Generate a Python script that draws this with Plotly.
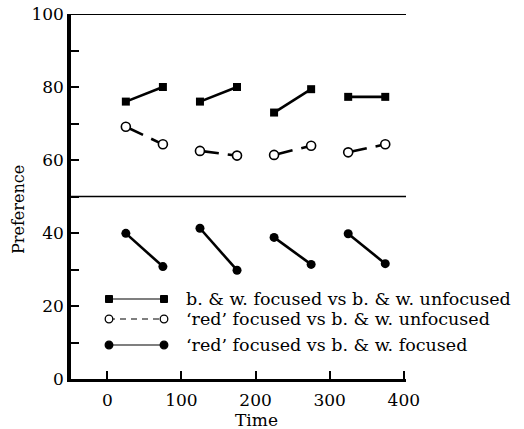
import plotly.graph_objects as go

# ---- data ----
times = [25, 75, 125, 175, 225, 275, 325, 375]
bw_focused_vs_bw_unfocused = [76, 80, 76, 80, 73, 79.4, 77.3, 77.3]
red_focused_vs_bw_unfocused = [69.1, 64.3, 62.5, 61.2, 61.4, 63.9, 62.1, 64.3]
red_focused_vs_bw_focused = [39.9, 30.8, 41.3, 29.8, 38.8, 31.4, 39.8, 31.6]

legend_labels = [
    "b. & w. focused vs b. & w. unfocused",
    "\u2018red\u2019 focused vs b. & w. unfocused",
    "\u2018red\u2019 focused vs b. & w. focused",
]
y_tick_vals = [0, 10, 20, 30, 40, 50, 60, 70, 80, 90, 100]
y_tick_text = ["0", "", "20", "", "40", "", "60", "", "80", "", "100"]
x_tick_vals = [0, 100, 200, 300, 400]

FONT = "DejaVu Serif"
W, H = 524, 429
L, R, T, B = 71, 406, 14, 379  # plot area in pixels


def pairs(xs, ys):
    ox, oy = [], []
    for i in range(0, len(xs), 2):
        ox += [xs[i], xs[i + 1], None]
        oy += [ys[i], ys[i + 1], None]
    return ox, oy


fig = go.Figure()

x1, y1 = pairs(times, bw_focused_vs_bw_unfocused)
fig.add_trace(go.Scatter(x=x1, y=y1, mode="lines+markers",
                         line=dict(color="black", width=2.6),
                         marker=dict(symbol="square", size=8, color="black"),
                         showlegend=False, cliponaxis=False))
x2, y2 = pairs(times, red_focused_vs_bw_unfocused)
fig.add_trace(go.Scatter(x=x2, y=y2, mode="lines+markers",
                         line=dict(color="black", width=2.6, dash="19px,9px"),
                         marker=dict(symbol="circle", size=9, color="white",
                                     line=dict(color="black", width=1.6)),
                         showlegend=False, cliponaxis=False))
x3, y3 = pairs(times, red_focused_vs_bw_focused)
fig.add_trace(go.Scatter(x=x3, y=y3, mode="lines+markers",
                         line=dict(color="black", width=2.6),
                         marker=dict(symbol="circle", size=9, color="black"),
                         showlegend=False, cliponaxis=False))


def px(x):
    return (x - L) / (R - L)


def py(y):
    return (B - y) / (B - T)


shapes = []
# horizontal lines at 100 and 50
shapes.append(dict(type="line", xref="paper", yref="y", x0=0, x1=1, y0=100, y1=100,
                   line=dict(color="black", width=1.8)))
shapes.append(dict(type="line", xref="paper", yref="y", x0=0, x1=1, y0=50, y1=50,
                   line=dict(color="black", width=1.5)))

# legend samples
rows_y = [299, 319, 345]
lx0, lx1 = 109, 164
for i, ry in enumerate(rows_y):
    dash = "6px,5px" if i == 1 else "solid"
    shapes.append(dict(type="line", xref="paper", yref="paper",
                       x0=px(lx0), x1=px(lx1), y0=py(ry), y1=py(ry),
                       line=dict(color="black", width=1.2, dash=dash)))
    for cx in (lx0, lx1):
        if i == 0:
            s = 3.5
            shapes.append(dict(type="rect", xref="paper", yref="paper",
                               x0=px(cx - s), x1=px(cx + s), y0=py(ry + s), y1=py(ry - s),
                               fillcolor="black", line=dict(color="black", width=1)))
        else:
            s = 3.8
            shapes.append(dict(type="circle", xref="paper", yref="paper",
                               x0=px(cx - s), x1=px(cx + s), y0=py(ry + s), y1=py(ry - s),
                               fillcolor="white" if i == 1 else "black",
                               line=dict(color="black", width=1.3)))

annotations = []
for i, ry in enumerate(rows_y):
    annotations.append(dict(text=legend_labels[i], xref="paper", yref="paper",
                            x=px(184), y=py(ry), xanchor="left", yanchor="middle",
                            showarrow=False, font=dict(family=FONT, size=17.5, color="black")))
annotations.append(dict(text="Time", xref="paper", yref="paper", x=px(256), y=py(420),
                        xanchor="center", yanchor="middle", showarrow=False,
                        font=dict(family=FONT, size=17, color="black")))
annotations.append(dict(text="Preference", xref="paper", yref="paper", x=px(18), y=py(210),
                        xanchor="center", yanchor="middle", showarrow=False, textangle=-90,
                        font=dict(family=FONT, size=16, color="black")))

fig.update_layout(
    width=W, height=H,
    margin=dict(l=L, r=W - R, t=T, b=H - B, pad=0, autoexpand=False),
    paper_bgcolor="white", plot_bgcolor="white",
    shapes=shapes, annotations=annotations,
    font=dict(family=FONT, size=17, color="black"),
    xaxis=dict(range=[-49, 403], tickvals=x_tick_vals, ticks="inside", ticklen=8,
               tickwidth=2, tickcolor="black", showline=True, linecolor="black",
               linewidth=3, showgrid=False, zeroline=False, automargin=False,
               ticklabelstandoff=4,
               tickfont=dict(family=FONT, size=17, color="black")),
    yaxis=dict(range=[0, 100], tickvals=y_tick_vals, ticktext=y_tick_text,
               ticks="inside", ticklen=8, tickwidth=2, tickcolor="black",
               showline=True, linecolor="black", linewidth=3.5, showgrid=False,
               zeroline=False, automargin=False,
               tickfont=dict(family=FONT, size=17, color="black")),
)

fig.write_html("out.html", config={"displayModeBar": False},
               post_script="document.body.style.margin='0px';")
